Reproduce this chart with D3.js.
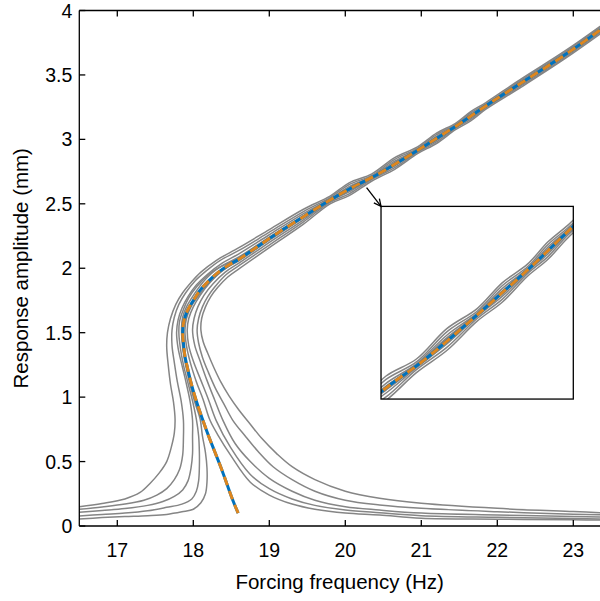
<!DOCTYPE html>
<html>
<head>
<meta charset="utf-8">
<script src="https://cdn.jsdelivr.net/npm/d3@7/dist/d3.min.js"></script>
<style>
body { margin: 0; background: #fff; }
svg { display: block; }
text { font-family: "Liberation Sans", Arial, Helvetica, sans-serif; fill: #000; }
</style>
</head>
<body>
<svg id="chart" width="600" height="601"></svg>
<script>
// tick labels
var freqTicks = [17, 18, 19, 20, 21, 22, 23];
var ampTicks = [0, 0.5, 1, 1.5, 2, 2.5, 3, 3.5, 4];

// backbone curve (frequency Hz, amplitude mm)
var backbone = [[18.59,0.10],[18.52,0.20],[18.44,0.33],[18.36,0.46],[18.28,0.58],[18.2,0.70],[18.12,0.83],[18.04,0.97],
	[17.98,1.09],[17.93,1.21],[17.89,1.32],[17.87,1.42],[17.86,1.51],[17.88,1.60],[17.93,1.68],[18.0,1.75],[18.09,1.83],
	[18.2,1.90],[18.31,1.96],[18.45,2.02],[18.6,2.07],[18.8,2.15],[19.1,2.27],[19.45,2.40],[19.8,2.53],[20.1,2.63],
	[20.4,2.72],[20.8,2.86],[21.1,2.97],[21.5,3.12],[21.9,3.28],[22.4,3.47],[22.9,3.66],[23.5,3.91]];

// frequencies of the upper-branch samples of the grey response curves
var upperFreq = [19.0,19.45,19.8,20.05,20.35,20.65,20.95,21.2,21.45,21.65,21.85,22.3,22.9,23.5];

// grey response curves, left (rising) part, largest forcing first
var left4 = [[16.5,0.15],[16.8,0.175],[17.1,0.21],[17.3,0.26],[17.43,0.33],[17.55,0.41],[17.65,0.50],[17.71,0.61],[17.75,0.72],
	[17.76,0.83],[17.74,0.96],[17.70,1.10],[17.67,1.25],[17.65,1.39],[17.66,1.50],[17.70,1.61],[17.77,1.72],[17.86,1.81],
	[17.97,1.89],[18.1,1.97],[18.3,2.06],[18.6,2.16]];
var left4Up = [2.300,2.458,2.560,2.663,2.733,2.858,2.941,3.048,3.125,3.216,3.286,3.464,3.690,3.940];
var left3 = [[16.5,0.13],[16.8,0.148],[17.1,0.17],[17.35,0.20],[17.52,0.24],[17.65,0.29],[17.75,0.36],[17.82,0.44],[17.86,0.55],
	[17.87,0.68],[17.87,0.82],[17.84,0.97],[17.79,1.12],[17.75,1.27],[17.72,1.40],[17.72,1.52],[17.75,1.62],[17.81,1.72],
	[17.9,1.81],[18.02,1.90],[18.17,1.98],[18.35,2.06],[18.6,2.138]];
var left3Up = [2.280,2.440,2.548,2.649,2.721,2.845,2.930,3.036,3.114,3.205,3.275,3.454,3.681,3.931];
var left2 = [[16.5,0.106],[16.8,0.12],[17.1,0.135],[17.4,0.16],[17.6,0.19],[17.75,0.23],[17.86,0.28],[17.93,0.35],[17.97,0.45],
	[17.99,0.56],[17.99,0.69],[17.99,0.82],[17.96,0.96],[17.91,1.10],[17.85,1.25],[17.8,1.38],[17.78,1.50],[17.8,1.60],
	[17.85,1.69],[17.93,1.78],[18.04,1.87],[18.18,1.95],[18.38,2.04],[18.6,2.112]];
var left2Up = [2.260,2.424,2.538,2.633,2.713,2.831,2.922,3.024,3.107,3.194,3.268,3.445,3.672,3.922];
var left1 = [[16.5,0.078],[16.8,0.09],[17.1,0.10],[17.4,0.118],[17.65,0.145],[17.85,0.17],[17.98,0.21],[18.04,0.27],[18.07,0.35],
	[18.08,0.46],[18.08,0.57],[18.07,0.70],[18.04,0.83],[17.99,0.97],[17.93,1.11],[17.87,1.25],[17.83,1.38],[17.81,1.50],
	[17.82,1.59],[17.87,1.68],[17.94,1.77],[18.05,1.86],[18.2,1.95],[18.38,2.02],[18.6,2.088]];
var left1Up = [2.242,2.409,2.533,2.621,2.708,2.820,2.918,3.014,3.103,3.185,3.263,3.437,3.665,3.915];
var left0 = [[16.5,0.054],[16.8,0.065],[17.1,0.073],[17.4,0.08],[17.65,0.09],[17.85,0.11],[18.0,0.13],[18.1,0.18],[18.16,0.25],
	[18.18,0.34],[18.18,0.45],[18.16,0.57],[18.12,0.70],[18.09,0.83],[18.02,0.96],[17.96,1.09],[17.91,1.22],[17.87,1.34],
	[17.85,1.45],[17.845,1.54],[17.86,1.62],[17.91,1.70],[17.98,1.77],[18.06,1.84],[18.17,1.92],[18.3,1.99],[18.44,2.035],[18.6,2.078]];
var left0Up = [2.235,2.404,2.531,2.616,2.706,2.816,2.916,3.010,3.101,3.182,3.261,3.434,3.662,3.912];

// grey response curves, right (falling) part, from the right edge back up to the upper branch
var right4 = [[23.5,0.10],[23.0,0.112],[22.0,0.137],[21.0,0.176],[20.45,0.215],[20.0,0.27],[19.6,0.36],[19.3,0.46],[19.1,0.56],
	[18.9,0.68],[18.75,0.79],[18.6,0.90],[18.47,1.01],[18.36,1.12],[18.27,1.23],[18.19,1.34],[18.13,1.43],[18.10,1.52],
	[18.11,1.61],[18.16,1.70],[18.23,1.78],[18.32,1.85],[18.45,1.93],[18.6,1.995]];
var right4Up = [2.160,2.342,2.500,2.563,2.677,2.768,2.889,2.968,3.075,3.144,3.234,3.400,3.630,3.880];
var right3 = [[23.5,0.085],[23.0,0.092],[22.0,0.111],[21.0,0.137],[20.45,0.163],[20.0,0.20],[19.6,0.27],[19.3,0.36],[19.05,0.46],
	[18.85,0.58],[18.68,0.70],[18.52,0.82],[18.40,0.95],[18.29,1.07],[18.2,1.19],[18.12,1.31],[18.07,1.42],[18.05,1.52],
	[18.07,1.61],[18.12,1.70],[18.19,1.78],[18.29,1.86],[18.43,1.95],[18.6,2.02]];
var right3Up = [2.180,2.360,2.512,2.577,2.689,2.781,2.900,2.980,3.086,3.155,3.245,3.410,3.639,3.889];
var right2 = [[23.5,0.068],[23.0,0.073],[22.0,0.085],[21.0,0.100],[20.45,0.124],[20.0,0.15],[19.6,0.20],[19.3,0.27],[19.0,0.37],
	[18.75,0.50],[18.55,0.64],[18.39,0.82],[18.28,0.98],[18.18,1.13],[18.09,1.28],[18.02,1.40],[17.99,1.52],[18.01,1.61],
	[18.06,1.70],[18.14,1.79],[18.26,1.88],[18.42,1.97],[18.6,2.04]];
var right2Up = [2.200,2.376,2.522,2.593,2.697,2.795,2.908,2.992,3.093,3.166,3.252,3.419,3.648,3.898];
var right1 = [[23.5,0.054],[23.0,0.058],[22.0,0.067],[21.0,0.080],[20.45,0.103],[20.0,0.125],[19.6,0.16],[19.3,0.21],[19.0,0.29],
	[18.75,0.40],[18.49,0.61],[18.3,0.82],[18.2,0.98],[18.1,1.13],[18.0,1.28],[17.94,1.40],[17.92,1.52],[17.94,1.61],
	[18.0,1.70],[18.09,1.79],[18.22,1.89],[18.4,1.99],[18.6,2.058]];
var right1Up = [2.218,2.391,2.527,2.605,2.702,2.806,2.912,3.002,3.097,3.175,3.257,3.427,3.655,3.905];
var right0 = [[23.5,0.045],[23.0,0.048],[22.0,0.053],[21.0,0.060],[20.45,0.085],[20.0,0.10],[19.6,0.13],[19.3,0.17],[19.0,0.24],
	[18.75,0.34],[18.49,0.55],[18.33,0.70],[18.22,0.82],[18.13,0.98],[18.04,1.12],[17.96,1.27],[17.91,1.40],[17.89,1.52],
	[17.91,1.61],[17.97,1.70],[18.06,1.78],[18.18,1.87],[18.36,1.97],[18.6,2.064]];
var right0Up = [2.225,2.396,2.529,2.610,2.704,2.810,2.914,3.006,3.099,3.178,3.259,3.430,3.658,3.908];

// inset: where it sits (main-axis units) and what it shows
var insetBox = { f0: 20.47, f1: 23.0, a0: 0.985, a1: 2.48 };
var insetFreq = [20.0, 21.9];
var insetAmp = [2.568, 3.362];
var arrowFrom = [20.28, 2.625];

var grayCurves = [
	left4.concat(d3.zip(upperFreq, left4Up)),
	left3.concat(d3.zip(upperFreq, left3Up)),
	left2.concat(d3.zip(upperFreq, left2Up)),
	left1.concat(d3.zip(upperFreq, left1Up)),
	left0.concat(d3.zip(upperFreq, left0Up)),
	right4.concat(d3.zip(upperFreq, right4Up)),
	right3.concat(d3.zip(upperFreq, right3Up)),
	right2.concat(d3.zip(upperFreq, right2Up)),
	right1.concat(d3.zip(upperFreq, right1Up)),
	right0.concat(d3.zip(upperFreq, right0Up))
];

var svg = d3.select('#chart');
var x = d3.scaleLinear().domain([16.5, 23.5]).range([79.3, 611.3]);
var y = d3.scaleLinear().domain([0, 4]).range([526, 10.5]);

var defs = svg.append('defs');
defs.append('clipPath').attr('id', 'plotclip')
	.append('rect')
	.attr('x', x(16.5)).attr('y', y(4))
	.attr('width', x(23.5) - x(16.5)).attr('height', y(0) - y(4));

function drawCurves(g, sx, sy)
{
	var line = d3.line()
		.x(function(d){ return sx(d[0]); })
		.y(function(d){ return sy(d[1]); })
		.curve(d3.curveCatmullRom.alpha(0.5));

	g.selectAll('path.gray')
		.data(grayCurves)
		.join('path')
		.attr('class', 'gray')
		.attr('d', line)
		.attr('fill', 'none')
		.attr('stroke', '#858585')
		.attr('stroke-width', 1.5);

	g.append('path')
		.attr('d', line(backbone))
		.attr('fill', 'none')
		.attr('stroke', '#0072BD')
		.attr('stroke-width', 3);

	g.append('path')
		.attr('d', line(backbone))
		.attr('fill', 'none')
		.attr('stroke', '#DE861E')
		.attr('stroke-width', 3)
		.attr('stroke-dasharray', '9,6');
}

// main curves
var plot = svg.append('g').attr('clip-path', 'url(#plotclip)');
drawCurves(plot, x, y);

// axes box
var axes = svg.append('g')
	.attr('stroke', '#000')
	.attr('stroke-width', 1.3);
axes.append('line')
	.attr('x1', x(16.5)).attr('x2', x(23.5))
	.attr('y1', y(0)).attr('y2', y(0));
axes.append('line')
	.attr('x1', x(16.5)).attr('x2', x(23.5))
	.attr('y1', y(4)).attr('y2', y(4));
axes.append('line')
	.attr('x1', x(16.5)).attr('x2', x(16.5))
	.attr('y1', y(0)).attr('y2', y(4));

// ticks point inward
freqTicks.forEach(function(t){
	axes.append('line').attr('x1', x(t)).attr('x2', x(t)).attr('y1', y(0)).attr('y2', y(0) - 6);
	axes.append('line').attr('x1', x(t)).attr('x2', x(t)).attr('y1', y(4)).attr('y2', y(4) + 6);
	svg.append('text')
		.attr('x', x(t)).attr('y', y(0) + 31)
		.attr('text-anchor', 'middle')
		.attr('font-size', 19.5)
		.text(t);
});
ampTicks.forEach(function(t){
	axes.append('line').attr('x1', x(16.5)).attr('x2', x(16.5) + 6).attr('y1', y(t)).attr('y2', y(t));
	svg.append('text')
		.attr('x', x(16.5) - 7).attr('y', y(t) + 7)
		.attr('text-anchor', 'end')
		.attr('font-size', 19.5)
		.text(t);
});

svg.append('text')
	.attr('x', (x(16.5) + 600) / 2).attr('y', 589)
	.attr('text-anchor', 'middle')
	.attr('font-size', 20.5)
	.text('Forcing frequency (Hz)');
svg.append('text')
	.attr('transform', 'translate(28,' + ((y(0) + y(4)) / 2) + ') rotate(-90)')
	.attr('text-anchor', 'middle')
	.attr('font-size', 20.5)
	.text('Response amplitude (mm)');

// inset
var ix0 = x(insetBox.f0), ix1 = x(insetBox.f1), iy0 = y(insetBox.a1), iy1 = y(insetBox.a0);
var xi = d3.scaleLinear().domain(insetFreq).range([ix0, ix1]);
var yi = d3.scaleLinear().domain(insetAmp).range([iy1, iy0]);
defs.append('clipPath').attr('id', 'insetclip')
	.append('rect')
	.attr('x', ix0).attr('y', iy0)
	.attr('width', ix1 - ix0).attr('height', iy1 - iy0);
svg.append('rect')
	.attr('x', ix0).attr('y', iy0)
	.attr('width', ix1 - ix0).attr('height', iy1 - iy0)
	.attr('fill', '#fff');
var inset = svg.append('g').attr('clip-path', 'url(#insetclip)');
drawCurves(inset, xi, yi);
svg.append('rect')
	.attr('x', ix0).attr('y', iy0)
	.attr('width', ix1 - ix0).attr('height', iy1 - iy0)
	.attr('fill', 'none')
	.attr('stroke', '#000')
	.attr('stroke-width', 1.3);

// arrow to inset
var ax = x(arrowFrom[0]), ay = y(arrowFrom[1]);
var ang = Math.atan2(iy0 - ay, ix0 - ax);
var head = 8;
svg.append('line')
	.attr('x1', ax).attr('y1', ay).attr('x2', ix0).attr('y2', iy0)
	.attr('stroke', '#000').attr('stroke-width', 1.3);
svg.append('path')
	.attr('d', 'M' + (ix0 - head * Math.cos(ang - 0.45)) + ',' + (iy0 - head * Math.sin(ang - 0.45)) +
		'L' + ix0 + ',' + iy0 +
		'L' + (ix0 - head * Math.cos(ang + 0.45)) + ',' + (iy0 - head * Math.sin(ang + 0.45)))
	.attr('fill', 'none')
	.attr('stroke', '#000')
	.attr('stroke-width', 1.3);
</script>
</body>
</html>
